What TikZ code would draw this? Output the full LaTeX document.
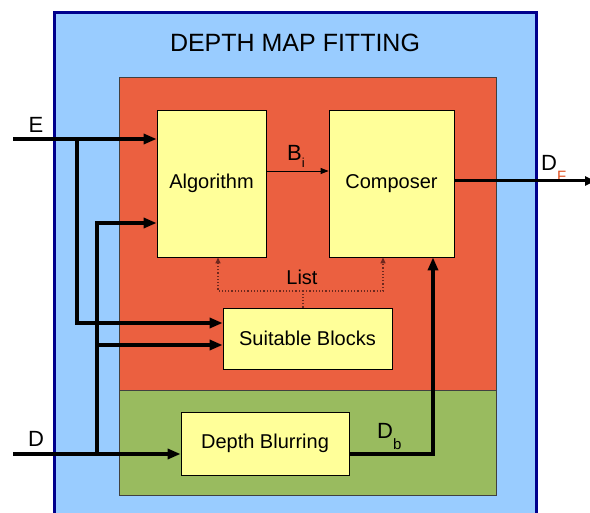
\documentclass[tikz,border=0pt]{standalone}
\usepackage{fontspec}
\setmainfont{Liberation Sans}
\usetikzlibrary{arrows.meta, calc}
\definecolor{fitblue}{RGB}{153,204,255}
\definecolor{fitnavy}{RGB}{0,0,140}
\definecolor{fitorange}{RGB}{235,96,64}
\definecolor{fitgreen}{RGB}{153,187,95}
\definecolor{fityellow}{RGB}{255,255,153}
\definecolor{fitbrown}{RGB}{110,40,30}
\definecolor{fitred}{RGB}{224,80,32}

\begin{document}
\begin{tikzpicture}[x=1pt, y=-1pt,
  block/.style={draw=black, line width=0.8pt, fill=fityellow, inner sep=0pt, font=\fontsize{20}{24}\selectfont},
  bus/.style={line width=3.8pt, -{Triangle[length=13pt,width=10pt]}},
  signal/.style={font=\fontsize{22}{26}\selectfont},
  listline/.style={fitbrown, line width=1.2pt, dotted}]
\useasboundingbox (0,0) rectangle (590,513);
% frames
\draw[fitnavy, line width=3pt, fill=fitblue] (54,13) rectangle (536,530);
\node[font=\fontsize{25}{30}\selectfont] (title) at (295,43) {DEPTH MAP FITTING};
\draw[draw=black!75, line width=0.6pt, fill=fitorange] (119,77) rectangle (496,390);
\draw[draw=black!75, line width=0.6pt, fill=fitgreen] (119,390) rectangle (496,495);
% blocks
\node[block, minimum width=109pt, minimum height=147pt] (alg) at (211.5,183.5) {Algorithm};
\node[block, minimum width=125pt, minimum height=147pt] (comp) at (391.5,183.5) {Composer};
\node[block, minimum width=169pt, minimum height=61pt] (suit) at (307.5,338.5) {Suitable Blocks};
\node[block, minimum width=168pt, minimum height=63pt] (blur) at (265,443.5) {Depth Blurring};
% points
\coordinate (inE) at (13,139);
\coordinate (inD) at (13,454);
\coordinate (splitE) at (77,139);
\coordinate (splitD) at (97,454);
\coordinate (turn) at (433,454);
\coordinate (outF) at (595,181);
\coordinate (listhub) at (303,291);
\coordinate (listL) at (218,291);
\coordinate (listR) at (383,291);
% labels
\node[signal] (labE) at (36,125) {E};
\node[signal] (labD) at (36,439) {D};
\node[signal, anchor=base west, inner sep=0pt] (labB) at (287,161) {B\raisebox{-7pt}{\fontsize{13}{14}\selectfont i}};
\node[signal, anchor=base west, inner sep=0pt] (labDb) at (377,439) {D\raisebox{-10pt}{\fontsize{15}{16}\selectfont b}};
\node[signal, anchor=base west, inner sep=0pt] (labDF) at (541,171) {D\raisebox{-11pt}{\fontsize{15}{16}\selectfont\color{fitred}F}};
\node[signal, font=\fontsize{20}{24}\selectfont] (labList) at (302,277) {List};
% inputs
\draw[bus] (inE) -- (alg.west |- inE);
\draw[bus] (splitE) |- ($(suit.west)+(0,-15.5)$);
\draw[bus] (inD) -- (blur.west |- inD);
\draw[bus] (splitD) |- ($(alg.west)+(0,39.5)$);
\draw[bus] ($(splitD)+(0,-109)$) -- ($(suit.west)+(0,6.5)$);
% outputs
\draw[bus] (blur.east |- inD) -- (turn) -- (comp.south -| turn);
\draw[line width=0.8pt, -{Triangle[length=8pt,width=6pt]}] ($(alg.east)+(0,-12.5)$) -- ($(comp.west)+(0,-12.5)$);
\draw[line width=3pt, -{Triangle[length=10pt,width=9pt]}] (comp.east |- outF) -- (outF);
% list
\draw[listline] (suit.north -| listhub) -- (listhub);
\draw[listline, -{Triangle[length=6pt,width=5pt]}] (listhub) -- (listL) -- (alg.south -| listL);
\draw[listline, -{Triangle[length=6pt,width=5pt]}] (listhub) -- (listR) -- (comp.south -| listR);
\end{tikzpicture}
\end{document}
